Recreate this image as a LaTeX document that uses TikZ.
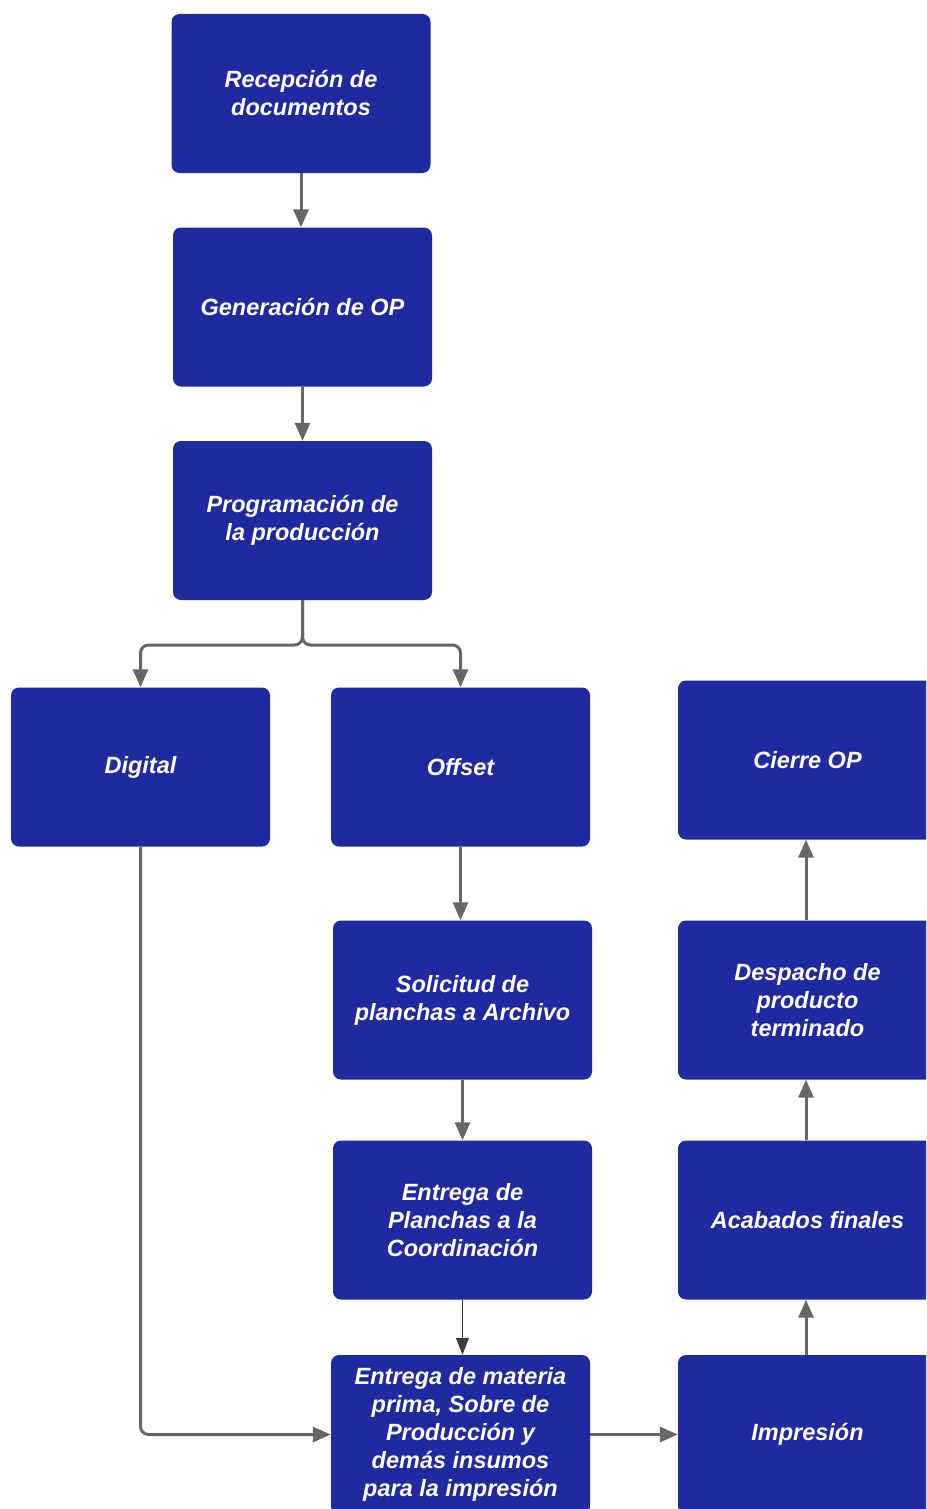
\documentclass[tikz,border=0pt]{standalone}
\usepackage{fontspec}
\setmainfont{Liberation Sans}
\usetikzlibrary{arrows.meta}
\definecolor{boxblue}{RGB}{31,42,160}
\definecolor{linegray}{RGB}{102,102,102}
\begin{document}
\begin{tikzpicture}[x=1pt,y=-1pt,
  procbox/.style={fill=boxblue, rounded corners=8pt, minimum width=259pt,
    minimum height=159pt, inner sep=0pt, text=white, align=center,
    font=\fontsize{23.5pt}{28pt}\selectfont\bfseries\itshape},
  arr/.style={draw=linegray, line width=3pt,
    -{Triangle[length=18pt,width=15pt]}, rounded corners=8pt},
  thinarr/.style={draw=linegray!60!black, line width=1.3pt,
    -{Triangle[length=17pt,width=13pt]}}]
\useasboundingbox (0,0) rectangle (926,1509);
\clip (0,0) rectangle (926,1509);

% process steps
\node[procbox] (rec) at (301,93.5)    {Recepción de\\documentos};
\node[procbox] (gen) at (302.5,307)   {Generación de OP};
\node[procbox] (pro) at (302.5,520.5) {Programación de\\la producción};
\node[procbox] (dig) at (140.5,767)   {Digital};
\node[procbox] (off) at (460.5,767)   {Offset};
\node[procbox] (cie) at (807.5,760)   {Cierre OP};
\node[procbox] (sol) at (462.5,1000)  {Solicitud de\\planchas a Archivo};
\node[procbox] (des) at (807.5,1000)  {Despacho de\\producto\\terminado};
\node[procbox] (pla) at (462.5,1220)  {Entrega de\\Planchas a la\\Coordinación};
\node[procbox] (aca) at (807.5,1220)  {Acabados finales};
\node[procbox] (mat) at (460.5,1434.5){Entrega de materia\\prima, Sobre de\\Producción y\\demás insumos\\para la impresión};
\node[procbox] (imp) at (807.5,1434.5){Impresión};

% connectors
\coordinate (split) at (302.5,645);
\draw[arr] (rec.south) -- (rec.south |- gen.north);
\draw[arr] (gen.south) -- (gen.south |- pro.north);
\draw[arr] (pro.south) -- (split) -| (dig.north);
\draw[arr] (pro.south) -- (split) -| (off.north);
\draw[arr] (off.south) -- (off.south |- sol.north);
\draw[arr] (sol.south) -- (pla.north);
\draw[thinarr] (pla.south) -- (pla.south |- mat.north);
\draw[arr] (dig.south) |- (mat.west);
\draw[arr] (mat.east) -- (imp.west);
\draw[arr] ([xshift=-1.5pt]imp.north) -- ([xshift=-1.5pt]aca.south);
\draw[arr] ([xshift=-1.5pt]aca.north) -- ([xshift=-1.5pt]des.south);
\draw[arr] ([xshift=-1.5pt]des.north) -- ([xshift=-1.5pt]cie.south);
\end{tikzpicture}
\end{document}
